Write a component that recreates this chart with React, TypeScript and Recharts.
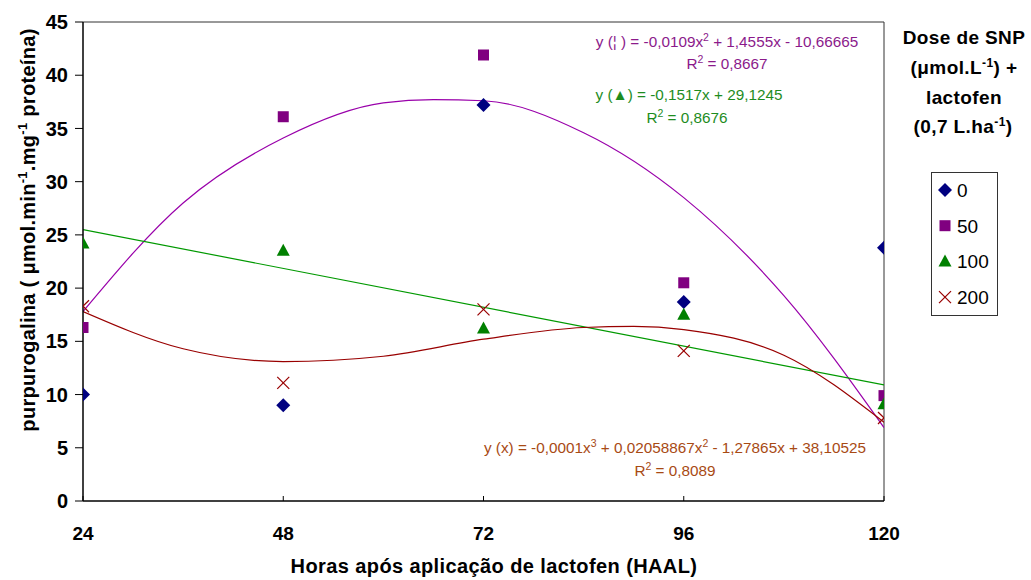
import React from "react";
import { ComposedChart, XAxis, YAxis, Scatter, Line, ReferenceLine } from "recharts";

const hours = [24, 48, 72, 96, 120];
const dose0 = [10.0, 9.0, 37.2, 18.7, 23.8];
const dose50 = [16.3, 36.1, 41.9, 20.5, 9.9];
const dose100 = [24.2, 23.5, 16.2, 17.5, 9.1];
const dose200 = [18.3, 11.1, 18.0, 14.1, 7.8];

const trend50Hours = [24, 36, 48, 60, 66, 72, 84, 96, 108, 120];
const trend50 = [17.8, 28.0, 34.1, 37.4, 37.7, 37.6, 34.6, 28.5, 19.3, 6.9];
const trend100Hours = [24, 120];
const trend100 = [25.5, 10.9];
const trend200Hours = [24, 36, 48, 60, 72, 84, 90, 96, 108, 120];
const trend200 = [17.8, 14.3, 13.1, 13.6, 15.2, 16.3, 16.4, 16.1, 13.7, 7.4];

const xTicks = [24, 48, 72, 96, 120];
const yTicks = [0, 5, 10, 15, 20, 25, 30, 35, 40, 45];
const legendLabels = ["0", "50", "100", "200"];

const pts = (xs: number[], ys: number[]) => xs.map((x, i) => ({ x, y: ys[i] }));

const FONT = "'Liberation Sans', Arial, sans-serif";
const C0 = "#000080";
const C50 = "#800080";
const C100 = "#008000";
const C200 = "#990000";

const Diamond = (cx: number, cy: number) => (
  <polygon points={`${cx},${cy - 7} ${cx + 7},${cy} ${cx},${cy + 7} ${cx - 7},${cy}`} fill={C0} />
);
const Square = (cx: number, cy: number) => (
  <rect x={cx - 5.5} y={cy - 5.5} width={11} height={11} fill={C50} />
);
const Triangle = (cx: number, cy: number) => (
  <polygon points={`${cx},${cy - 7} ${cx + 6.5},${cy + 5} ${cx - 6.5},${cy + 5}`} fill={C100} />
);
const Cross = (cx: number, cy: number) => (
  <g stroke={C200} strokeWidth={1.2}>
    <line x1={cx - 6} y1={cy - 6} x2={cx + 6} y2={cy + 6} />
    <line x1={cx - 6} y1={cy + 6} x2={cx + 6} y2={cy - 6} />
  </g>
);
const shapes = [Diamond, Square, Triangle, Cross];

const mkShape = (fn: (cx: number, cy: number) => React.ReactElement) => (props: any) => {
  const { cx, cy } = props;
  if (cx == null || cy == null) return <g />;
  return fn(cx, cy);
};

const XTick = (props: any) => {
  const { x, y, payload } = props;
  return (
    <g>
      <line x1={x} y1={y} x2={x} y2={y - 5} stroke="#000" strokeWidth={1} />
      <text x={x} y={y + 39} textAnchor="middle" fontFamily={FONT} fontWeight="bold" fontSize={19} fill="#000">
        {payload.value}
      </text>
    </g>
  );
};

const EQ = 15.3;
const SUP = 10.5;

export default function App() {
  return (
    <div style={{ position: "absolute", left: 0, top: 0, width: 1031, height: 580, background: "#fff" }}>
      <ComposedChart width={1031} height={580} margin={{ top: 22, right: 147, bottom: 0, left: 0 }}>
        <XAxis
          dataKey="x"
          type="number"
          domain={[24, 120]}
          ticks={xTicks}
          interval={0}
          height={79}
          tickSize={0}
          tickMargin={0}
          tick={<XTick />}
          axisLine={{ stroke: "#000", strokeWidth: 1.5 }}
          allowDataOverflow
        />
        <YAxis
          type="number"
          domain={[0, 45]}
          ticks={yTicks}
          interval={0}
          width={83}
          tickSize={8}
          tickMargin={7}
          tickLine={{ stroke: "#000" }}
          axisLine={{ stroke: "#000", strokeWidth: 1.5 }}
          tick={{ fontFamily: FONT, fontWeight: "bold", fontSize: 20, fill: "#000" }}
          allowDataOverflow
        />
        <ReferenceLine y={45} stroke="#333" strokeWidth={1} ifOverflow="extendDomain" />
        <ReferenceLine x={120} stroke="#333" strokeWidth={1} ifOverflow="extendDomain" />
        <Line data={pts(trend50Hours, trend50)} dataKey="y" type="monotone" stroke="#9900AA" strokeWidth={1.2} dot={false} activeDot={false} isAnimationActive={false} />
        <Line data={pts(trend100Hours, trend100)} dataKey="y" type="linear" stroke="#009900" strokeWidth={1.2} dot={false} activeDot={false} isAnimationActive={false} />
        <Line data={pts(trend200Hours, trend200)} dataKey="y" type="monotone" stroke="#990000" strokeWidth={1.2} dot={false} activeDot={false} isAnimationActive={false} />
        <Scatter data={pts(hours, dose0)} dataKey="y" shape={mkShape(Diamond)} isAnimationActive={false} />
        <Scatter data={pts(hours, dose50)} dataKey="y" shape={mkShape(Square)} isAnimationActive={false} />
        <Scatter data={pts(hours, dose100)} dataKey="y" shape={mkShape(Triangle)} isAnimationActive={false} />
        <Scatter data={pts(hours, dose200)} dataKey="y" shape={mkShape(Cross)} isAnimationActive={false} />
      </ComposedChart>
      <svg width={1031} height={580} style={{ position: "absolute", left: 0, top: 0, pointerEvents: "none" }} fontFamily={FONT}>
        {/* y axis title */}
        <text transform="translate(35,230) rotate(-90)" textAnchor="middle" fontWeight="bold" fontSize={20} letterSpacing={0.3} fill="#000">
          purpurogalina ( μmol.min<tspan dy={-8} fontSize={13}>-1</tspan><tspan dy={8}>.mg</tspan><tspan dy={-8} fontSize={13}>-1</tspan><tspan dy={8}> proteína)</tspan>
        </text>
        {/* x axis title */}
        <text x={494} y={573} textAnchor="middle" fontWeight="bold" fontSize={20} fill="#000" letterSpacing={0.4}>
          Horas após aplicação de lactofen (HAAL)
        </text>
        {/* equations */}
        <text x={727} y={47} textAnchor="middle" fontSize={EQ} fill="#8B1A8B">
          y (¦ ) = -0,0109x<tspan dy={-6} fontSize={SUP}>2</tspan><tspan dy={6}> + 1,4555x - 10,66665</tspan>
        </text>
        <text x={727} y={69} textAnchor="middle" fontSize={EQ} fill="#8B1A8B">
          R<tspan dy={-6} fontSize={SUP}>2</tspan><tspan dy={6}> = 0,8667</tspan>
        </text>
        <text x={689} y={100} textAnchor="middle" fontSize={EQ} fill="#1E8C1E">
          y (▲) = -0,1517x + 29,1245
        </text>
        <text x={687} y={123} textAnchor="middle" fontSize={EQ} fill="#1E8C1E">
          R<tspan dy={-6} fontSize={SUP}>2</tspan><tspan dy={6}> = 0,8676</tspan>
        </text>
        <text x={675} y={453} textAnchor="middle" fontSize={EQ} fill="#A84A14">
          y (x) = -0,0001x<tspan dy={-6} fontSize={SUP}>3</tspan><tspan dy={6}> + 0,02058867x</tspan><tspan dy={-6} fontSize={SUP}>2</tspan><tspan dy={6}> - 1,27865x + 38,10525</tspan>
        </text>
        <text x={675} y={476} textAnchor="middle" fontSize={EQ} fill="#A84A14">
          R<tspan dy={-6} fontSize={SUP}>2</tspan><tspan dy={6}> = 0,8089</tspan>
        </text>
        {/* legend title */}
        <g fontWeight="bold" fontSize={19} fill="#000" textAnchor="middle" letterSpacing={0.4}>
          <text x={964} y={44}>Dose de SNP</text>
          <text x={964} y={74}>(μmol.L<tspan dy={-7} fontSize={12}>-1</tspan><tspan dy={7}>) +</tspan></text>
          <text x={964} y={104}>lactofen</text>
          <text x={963} y={133}>(0,7 L.ha<tspan dy={-7} fontSize={12}>-1</tspan><tspan dy={7}>)</tspan></text>
        </g>
        {/* legend box */}
        <rect x={931.5} y={172.5} width={66} height={143} fill="#fff" stroke="#333" strokeWidth={1} />
        {legendLabels.map((lab, i) => {
          const cy = 190 + i * 35.7;
          return (
            <g key={lab}>
              {shapes[i](945, cy)}
              <text x={957} y={cy + 7} fontSize={19} fill="#000">{lab}</text>
            </g>
          );
        })}
      </svg>
    </div>
  );
}
